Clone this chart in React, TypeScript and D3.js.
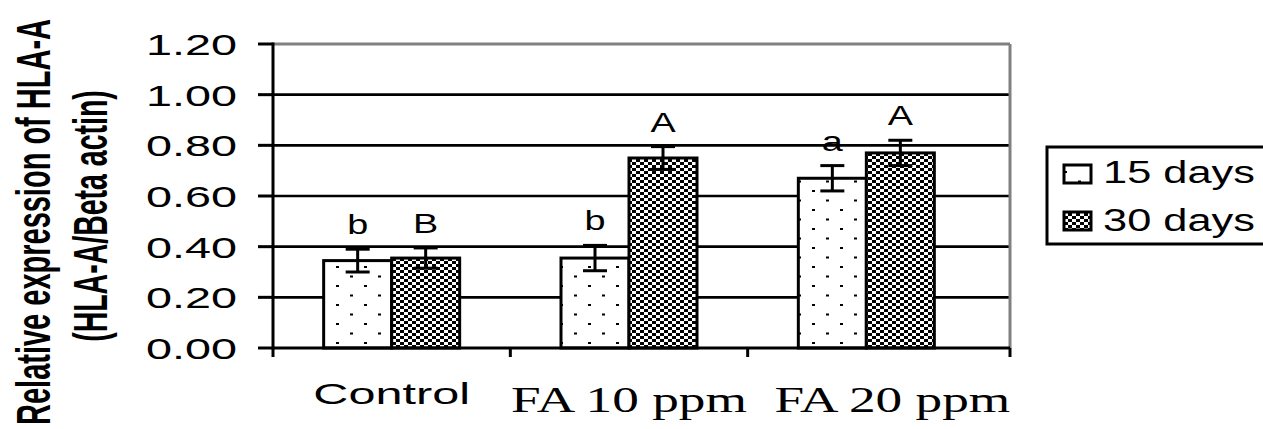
import React from "react";
import * as d3 from "d3";

const categories = ["Control", "FA 10 ppm", "FA 20 ppm"];
const seriesNames = ["15 days", "30 days"];
const values15 = [0.345, 0.355, 0.67];
const values30 = [0.355, 0.75, 0.77];
const err15 = [0.045, 0.05, 0.05];
const err30 = [0.04, 0.045, 0.05];
const letters15 = ["b", "b", "a"];
const letters30 = ["B", "A", "A"];
const yTicks = [0, 0.2, 0.4, 0.6, 0.8, 1.0, 1.2];

const W = 1263;
const H = 429;
const SANS = "'Liberation Sans', Arial, sans-serif";
const SERIF = "'Liberation Serif', 'Times New Roman', serif";
const CAT_LABEL_DX = [0, 0, 26];

export default function App() {
  const y = d3.scaleLinear().domain([0, 1.2]).range([348, 44]);
  const x = d3.scaleBand<string>().domain(categories).range([273, 985]).padding(0);
  const plotLeft = 273;
  const plotRight = 1010;
  const barW = 68;
  const sub = (c: string) =>
    d3
      .scaleBand<string>()
      .domain(seriesNames)
      .range([x(c)! + x.bandwidth() / 2 - barW, x(c)! + x.bandwidth() / 2 + barW]);

  const series = [
    { name: seriesNames[0], vals: values15, errs: err15, letters: letters15, fill: "url(#dots)" },
    { name: seriesNames[1], vals: values30, errs: err30, letters: letters30, fill: "url(#checks)" },
  ];

  const tickPositions = [...categories.map((c) => x(c)!), plotRight];

  return (
    <svg
      width={W}
      height={H}
      style={{ position: "absolute", left: 0, top: 0, background: "#fff" }}
    >
      <defs>
        <pattern id="dots" patternUnits="userSpaceOnUse" width={28} height={19}>
          <rect width={28} height={19} fill="#fff" />
          <rect x={0} y={0} width={3} height={2} fill="#000" />
          <rect x={14} y={9.5} width={3} height={2} fill="#000" />
        </pattern>
        <pattern id="checks" patternUnits="userSpaceOnUse" width={8} height={6}>
          <rect width={8} height={6} fill="#fff" />
          <rect x={0} y={0} width={4} height={3} fill="#000" />
          <rect x={4} y={3} width={4} height={3} fill="#000" />
        </pattern>
      </defs>

      {yTicks
        .filter((t) => t > 0 && t < 1.2)
        .map((t) => (
          <line key={t} x1={plotLeft} x2={plotRight} y1={y(t)} y2={y(t)} stroke="#000" strokeWidth={2.6} />
        ))}
      <line x1={plotLeft} x2={plotRight} y1={y(1.2)} y2={y(1.2)} stroke="#808080" strokeWidth={3} />
      <line x1={plotRight} x2={plotRight} y1={y(1.2)} y2={y(0)} stroke="#808080" strokeWidth={3} />

      {categories.map((c, i) => {
        const s = sub(c);
        return series.map((se) => {
          const bx = s(se.name)!;
          const v = se.vals[i];
          return (
            <rect
              key={c + se.name}
              x={bx}
              y={y(v)}
              width={s.bandwidth()}
              height={y(0) - y(v)}
              fill={se.fill}
              stroke="#000"
              strokeWidth={3}
            />
          );
        });
      })}

      {categories.map((c, i) => {
        const s = sub(c);
        return series.map((se) => {
          const cx = s(se.name)! + s.bandwidth() / 2;
          const v = se.vals[i];
          const e = se.errs[i];
          return (
            <g key={"e" + c + se.name} stroke="#000" strokeWidth={3}>
              <line x1={cx} x2={cx} y1={y(v + e)} y2={y(v - e)} />
              <line x1={cx - 12} x2={cx + 12} y1={y(v + e)} y2={y(v + e)} />
              <line x1={cx - 12} x2={cx + 12} y1={y(v - e)} y2={y(v - e)} />
            </g>
          );
        });
      })}

      {categories.map((c, i) => {
        const s = sub(c);
        return series.map((se) => {
          const cx = s(se.name)! + s.bandwidth() / 2;
          const top = y(se.vals[i] + se.errs[i]);
          return (
            <text
              key={"l" + c + se.name}
              transform={`translate(${cx},${top - 15}) scale(1.35,1)`}
              textAnchor="middle"
              fontFamily={SANS}
              fontSize={28}
              fill="#000"
            >
              {se.letters[i]}
            </text>
          );
        });
      })}

      <line x1={plotLeft} x2={plotLeft} y1={y(1.2) - 1.5} y2={y(0) + 1.5} stroke="#000" strokeWidth={3} />
      <line x1={plotLeft} x2={plotRight} y1={y(0)} y2={y(0)} stroke="#000" strokeWidth={3} />
      {yTicks.map((t) => (
        <g key={"t" + t}>
          <line x1={258} x2={plotLeft} y1={y(t)} y2={y(t)} stroke="#000" strokeWidth={3} />
          <text
            transform={`translate(237,${y(t) + 11}) scale(1.56,1)`}
            textAnchor="end"
            fontFamily={SANS}
            fontSize={30}
            fill="#000"
          >
            {t.toFixed(2)}
          </text>
        </g>
      ))}
      {tickPositions.map((px, i) => (
        <line key={"xt" + i} x1={px} x2={px} y1={y(0)} y2={y(0) + 9} stroke="#000" strokeWidth={3} />
      ))}

      {categories.map((c, i) => {
        const cx = x(c)! + x.bandwidth() / 2 + CAT_LABEL_DX[i];
        if (i === 0) {
          return (
            <text
              key={"c" + c}
              transform={`translate(${cx},404) scale(1.62,1)`}
              textAnchor="middle"
              fontFamily={SANS}
              fontSize={30}
              fill="#000"
            >
              {c}
            </text>
          );
        }
        return (
          <text
            key={"c" + c}
            transform={`translate(${cx},412) scale(1.48,1)`}
            textAnchor="middle"
            fontFamily={SERIF}
            fontSize={36}
            fill="#000"
          >
            {c}
          </text>
        );
      })}

      <text
        transform={`translate(50,222) scale(1.65,1) rotate(-90)`}
        textAnchor="middle"
        fontFamily={SANS}
        fontWeight="bold"
        fontSize={29}
        fill="#000"
      >
        Relative expression of HLA-A
      </text>
      <text
        transform={`translate(107,216) scale(1.68,1) rotate(-90)`}
        textAnchor="middle"
        fontFamily={SANS}
        fontWeight="bold"
        fontSize={28.5}
        fill="#000"
      >
        (HLA-A/Beta actin)
      </text>

      <rect x={1047} y={147} width={240} height={97} fill="#fff" stroke="#000" strokeWidth={3} />
      {series.map((se, i) => (
        <g key={"lg" + se.name}>
          <rect x={1064} y={165 + i * 47} width={27} height={18} fill={se.fill} stroke="#000" strokeWidth={3} />
          <text
            transform={`translate(1103,${183 + i * 48}) scale(1.4,1)`}
            fontFamily={SANS}
            fontSize={31}
            fill="#000"
          >
            {se.name}
          </text>
        </g>
      ))}
    </svg>
  );
}
